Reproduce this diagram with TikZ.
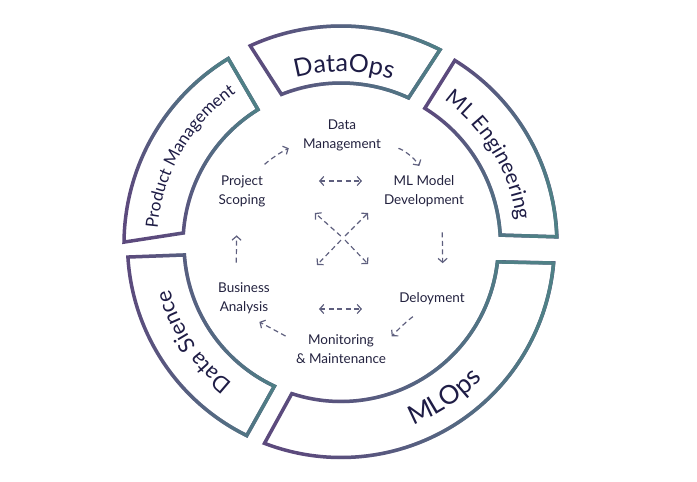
\documentclass[tikz,border=0pt]{standalone}
\usepackage{fontspec}
\setmainfont{Lato}
\usetikzlibrary{arrows.meta,decorations.text,fadings}

\definecolor{ringpurple}{HTML}{5C4A7D}
\definecolor{ringteal}{HTML}{4F8086}
\definecolor{labelnavy}{HTML}{1E1C45}
\definecolor{phasetext}{HTML}{23223F}
\definecolor{arrowgray}{HTML}{5E5F7E}

\tikzfading[name=toteal, left color=transparent!100, right color=transparent!0]

% one band of the ring: outer arc, inner arc back, purple fading into teal
\newcommand{\ringseg}[7]{%
  \draw[ringline, ringpurple] (#1:#3) arc[start angle=#1, end angle=#2, radius=#3] -- (#4:#6) arc[start angle=#4, end angle=#5, radius=#6] -- cycle;
  \draw[ringline, ringteal, path fading=toteal, fading angle=#7] (#1:#3) arc[start angle=#1, end angle=#2, radius=#3] -- (#4:#6) arc[start angle=#4, end angle=#5, radius=#6] -- cycle;
}

\begin{document}
\begin{tikzpicture}[x=1pt, y=1pt,
    ringline/.style={line width=3.5pt, line join=miter},
    phase/.style={text=phasetext, font=\fontsize{13.5}{19}\selectfont, align=center, inner sep=1.5pt},
    cyclearrow/.style={draw=arrowgray, line width=1.2pt, dash pattern=on 5pt off 3.5pt, -{Straight Barb[length=4pt,width=9pt]}},
    twoway/.style={cyclearrow, {Straight Barb[length=4pt,width=9pt]}-{Straight Barb[length=4pt,width=9pt]}}]
  \useasboundingbox (-341,-238) rectangle (356,244);

  % ring bands
  \ringseg{114.6}{63}{218pt}{65.2}{111.7}{161pt}{0}
  \ringseg{58.2}{1.9}{216pt}{3.2}{58.3}{159.5pt}{-30}
  \ringseg{179.5}{121.3}{217pt}{121.7}{176}{158pt}{45}
  \ringseg{243.8}{183.5}{213.5pt}{184}{244.9}{157pt}{0}
  \ringseg{249}{354.9}{213.5pt}{353.5}{251.8}{157.5pt}{20}

  % band labels
  \path[decorate, decoration={text along path, text align=center, text color=labelnavy,
      text={|\fontsize{25}{30}\selectfont|DataOps}}] (119:172pt) arc[start angle=119, end angle=59, radius=172pt];
  \path[decorate, decoration={text along path, text align=center, text color=labelnavy,
      text={|\fontsize{21}{25}\selectfont|ML Engineering}}] (71:177pt) arc[start angle=71, end angle=-9, radius=177pt];
  \path[decorate, decoration={text along path, text align=center, text color=labelnavy,
      text={|\fontsize{17}{20}\selectfont|Product Management}}] (190:184pt) arc[start angle=190, end angle=110, radius=184pt];
  \path[decorate, decoration={text along path, text align=center, text color=labelnavy,
      text={|\fontsize{22}{26}\selectfont|Data Sience}}] (253.5:177pt) arc[start angle=253.5, end angle=173.5, radius=177pt];
  \path[decorate, decoration={text along path, text align=center, text color=labelnavy,
      text={|\fontsize{26}{30}\selectfont|MLOps}}] (-86:195pt) arc[start angle=-86, end angle=-26, radius=195pt];

  % phases of the cycle
  \node[phase] (dm) at (1,109) {Data\\Management};
  \node[phase] (mm) at (83,53) {ML Model\\Development};
  \node[phase] (dep) at (91,-55) {Deloyment};
  \node[phase] (mon) at (0,-105) {Monitoring\\\& Maintenance};
  \node[phase] (ba) at (-97,-54) {Business\\Analysis};
  \node[phase] (ps) at (-99,53) {Project\\Scoping};

  \draw[cyclearrow, shorten <=14pt, shorten >=14pt] (ps.55) to[bend left=8] (dm.190);
  \draw[cyclearrow, shorten <=16pt, shorten >=9pt] (dm.-15) to[bend left=25] (mm.north);
  \draw[cyclearrow, shorten <=24pt, shorten >=28pt] ([xshift=18pt]mm.south) -- ([xshift=11pt]dep.north);
  \draw[cyclearrow, shorten <=19pt, shorten >=6pt] (dep.-110) to[bend right=8] (mon.10);
  \draw[cyclearrow, shorten <=10pt, shorten >=14pt] (mon.170) -- (ba.-80);
  \draw[cyclearrow, shorten <=18pt, shorten >=27pt] ([xshift=-8pt]ba.north) -- ([xshift=-5pt]ps.south);

  % arrows in the middle
  \coordinate (tl) at (-22,63);
  \coordinate (tr) at (21,63);
  \coordinate (bl) at (-22,-65);
  \coordinate (br) at (21,-65);
  \coordinate (hub) at (2,6);
  \coordinate (nw) at (-26,31);
  \coordinate (ne) at (27,31);
  \coordinate (sw) at (-24,-21);
  \coordinate (se) at (27,-20);
  \draw[twoway] (tl) -- (tr);
  \draw[twoway] (bl) -- (br);
  \foreach \arm in {nw,ne,sw,se}
    \draw[cyclearrow, shorten <=3pt] (hub) -- (\arm);
\end{tikzpicture}
\end{document}
